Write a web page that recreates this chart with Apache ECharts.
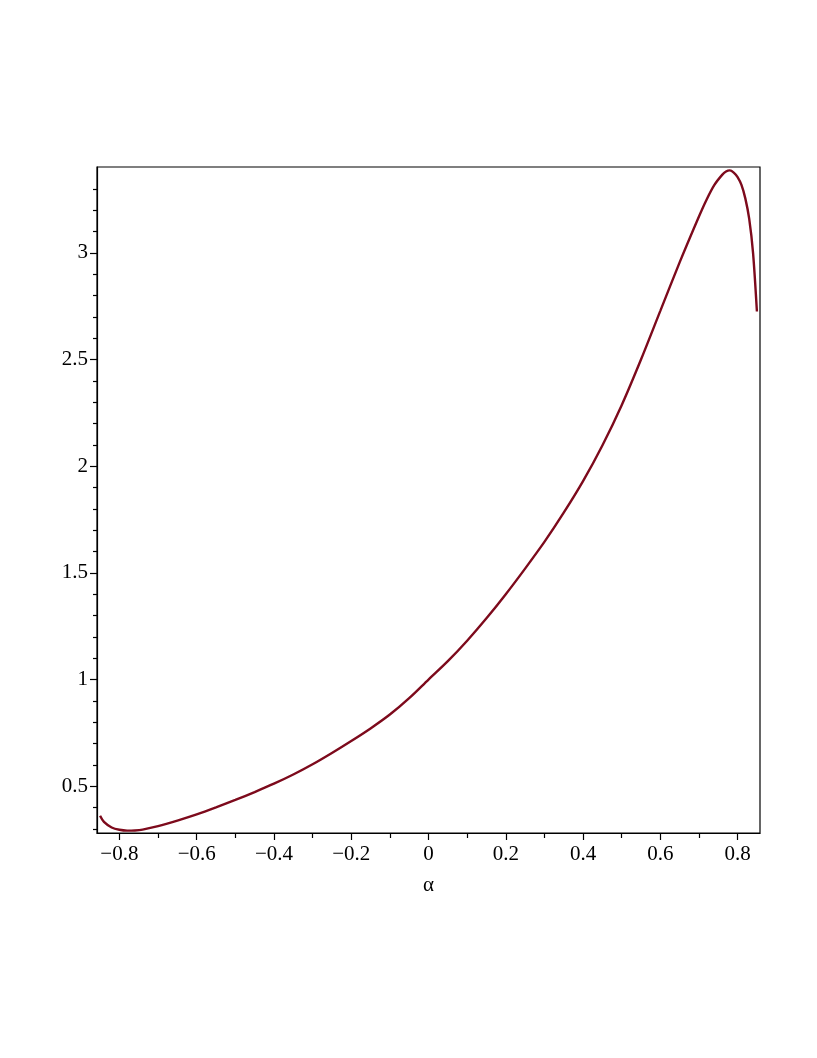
<!DOCTYPE html>
<html>
<head>
<meta charset="utf-8">
<script src="https://cdn.jsdelivr.net/npm/echarts@6/dist/echarts.min.js"></script>
<style>
  html, body { margin: 0; padding: 0; background: #fff; }
  #plot { width: 817px; height: 1058px; }
</style>
</head>
<body>
<div id="plot"></div>
<script>
// curve values
const alphaValues = [-0.85, -0.84, -0.82, -0.80, -0.78, -0.76, -0.74, -0.70, -0.65, -0.60,
    -0.55, -0.50, -0.45, -0.40, -0.35, -0.30, -0.25, -0.20, -0.15, -0.10, -0.05, 0,
    0.05, 0.10, 0.15, 0.20, 0.25, 0.30, 0.35, 0.40, 0.45, 0.50, 0.55, 0.60, 0.65,
    0.70, 0.72, 0.74, 0.76, 0.77, 0.78, 0.79, 0.80, 0.81, 0.82, 0.83, 0.84, 0.85];
const fValues = [0.362, 0.333, 0.307, 0.296, 0.292, 0.293, 0.297, 0.313, 0.339, 0.368,
    0.401, 0.436, 0.473, 0.512, 0.555, 0.603, 0.656, 0.712, 0.771, 0.836, 0.913, 1.0,
    1.086, 1.182, 1.287, 1.400, 1.520, 1.645, 1.782, 1.930, 2.097, 2.286, 2.500, 2.728, 2.955,
    3.170, 3.250, 3.318, 3.365, 3.381, 3.386, 3.376, 3.355, 3.318, 3.255, 3.16, 3.0, 2.725];

// tick labels
const xMajorTicks = [-0.8, -0.6, -0.4, -0.2, 0, 0.2, 0.4, 0.6, 0.8];
const xMinorTicks = [-0.7, -0.5, -0.3, -0.1, 0.1, 0.3, 0.5, 0.7];
const yMajorTicks = [0.5, 1, 1.5, 2, 2.5, 3];
const yMinorTicks = [0.3, 0.4, 0.6, 0.7, 0.8, 0.9, 1.1, 1.2, 1.3, 1.4, 1.6, 1.7, 1.8, 1.9,
    2.1, 2.2, 2.3, 2.4, 2.6, 2.7, 2.8, 2.9, 3.1, 3.2, 3.3];

const xMin = -0.858, xMax = 0.858;
const yMin = 0.281, yMax = 3.402;

const labelFont = {
    fontFamily: 'Liberation Serif',
    fontSize: 21,
    color: '#000'
};

function fmt(v) {
    return String(Math.round(v * 10) / 10).replace('-', '\u2212');
}

const chart = echarts.init(document.getElementById('plot'), null, { renderer: 'canvas' });

const option = {
    animation: false,
    backgroundColor: '#fff',
    grid: {
        left: 97, right: 57, top: 167, bottom: 225,
        show: true,
        borderColor: '#000',
        borderWidth: 1.2,
        backgroundColor: 'transparent'
    },
    xAxis: [{
        type: 'value',
        min: xMin, max: xMax,
        name: 'α',
        nameLocation: 'middle',
        nameGap: 42,
        nameTextStyle: labelFont,
        axisLine: { show: true, onZero: false, lineStyle: { color: '#000', width: 1.2 } },
        axisTick: { show: true, length: 7, customValues: xMajorTicks, lineStyle: { color: '#000', width: 1.2 } },
        axisLabel: Object.assign({ customValues: xMajorTicks, margin: 11, formatter: fmt }, labelFont),
        splitLine: { show: false }
    }, {
        type: 'value',
        min: xMin, max: xMax,
        position: 'bottom',
        axisLine: { show: false, onZero: false },
        axisTick: { show: true, length: 5, customValues: xMinorTicks, lineStyle: { color: '#000', width: 1.2 } },
        axisLabel: { show: false },
        splitLine: { show: false }
    }],
    yAxis: [{
        type: 'value',
        min: yMin, max: yMax,
        axisLine: { show: true, onZero: false, lineStyle: { color: '#000', width: 1.2 } },
        axisTick: { show: true, length: 7, customValues: yMajorTicks, lineStyle: { color: '#000', width: 1.2 } },
        axisLabel: Object.assign({ customValues: yMajorTicks, margin: 9, formatter: fmt }, labelFont),
        splitLine: { show: false }
    }, {
        type: 'value',
        min: yMin, max: yMax,
        position: 'left',
        axisLine: { show: false, onZero: false },
        axisTick: { show: true, length: 4, customValues: yMinorTicks, lineStyle: { color: '#000', width: 1.2 } },
        axisLabel: { show: false },
        splitLine: { show: false }
    }],
    series: [{
        type: 'line',
        xAxisIndex: 0,
        yAxisIndex: 0,
        data: alphaValues.map(function (a, i) { return [a, fValues[i]]; }),
        smooth: 0.3,
        showSymbol: false,
        lineStyle: { color: '#7d0a1c', width: 2.4 }
    }]
};

chart.setOption(option);
</script>
</body>
</html>
